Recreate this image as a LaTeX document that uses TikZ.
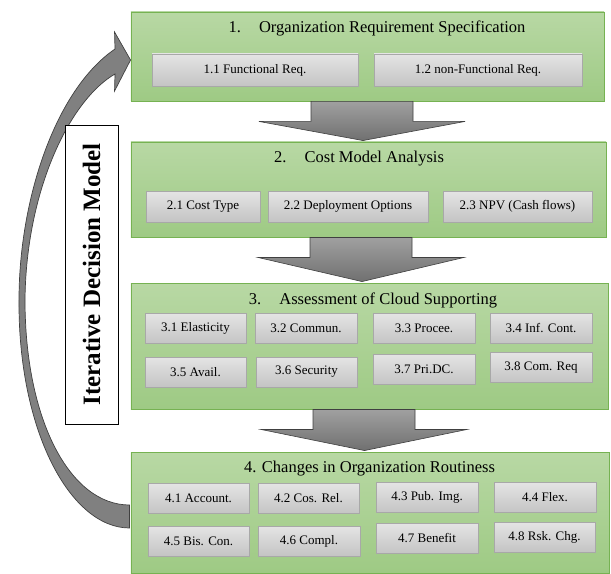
\documentclass[tikz,border=0pt]{standalone}
\usepackage{fontspec}
\setmainfont{Liberation Serif}
\usetikzlibrary{calc}
\definecolor{greenedge}{RGB}{118,178,82}
\definecolor{greentop}{RGB}{184,216,164}
\definecolor{greenbot}{RGB}{158,202,132}
\definecolor{subedge}{RGB}{168,168,168}
\definecolor{subtop}{RGB}{228,228,228}
\definecolor{subbot}{RGB}{196,196,196}
\definecolor{arrowtop}{RGB}{160,160,160}
\definecolor{arrowbot}{RGB}{112,112,112}
\definecolor{arrowedge}{RGB}{64,64,64}

\begin{document}
\begin{tikzpicture}[x=1bp,y=-1bp,
  mainbox/.style={draw=greenedge,line width=0.9bp,top color=greentop,bottom color=greenbot,inner sep=0},
  subbox/.style={draw=subedge,line width=0.9bp,top color=subtop,bottom color=subbot,inner sep=0,
    minimum height=30bp,font=\fontsize{13bp}{15bp}\selectfont},
  titletext/.style={inner sep=0,font=\fontsize{16.5bp}{19bp}\selectfont},
  downarrow/.style={draw=arrowedge,line width=0.6bp,top color=arrowtop,bottom color=arrowbot},
  looparrow/.style={draw=arrowedge,line width=0.7bp,fill=black!50},
  loopbox/.style={draw=black,line width=0.8bp,fill=white,inner sep=0,rotate=90,
    font=\fontsize{25bp}{28bp}\selectfont\bfseries}]
\useasboundingbox (0,0) rectangle (611,574);

\node[mainbox,minimum width=473bp,minimum height=89bp] (b1) at (367.5,56.5) {};
\node[mainbox,minimum width=475bp,minimum height=95bp] (b2) at (368.5,189.5) {};
\node[mainbox,minimum width=477bp,minimum height=126bp] (b3) at (369.5,346) {};
\node[mainbox,minimum width=478bp,minimum height=121bp] (b4) at (370,512.5) {};

\node[titletext] (t1) at (377,28.5) {1.\hspace{1.1em}Organization Requirement Specification};
\node[titletext] (t2) at (359,159) {2.\hspace{1.1em}Cost Model Analysis};
\node[titletext] (t3) at (373,300.5) {3.\hspace{1.1em}Assessment of Cloud Supporting};
\node[titletext] (t4) at (369.5,469) {4. Changes in Organization Routiness};

\node[subbox,minimum width=206bp,minimum height=32bp] (s11) at (255,70) {1.1 Functional Req.};
\node[subbox,minimum width=208bp,minimum height=32bp] (s12) at (478,70) {1.2 non-Functional Req.};

\node[subbox,minimum width=114bp,minimum height=31bp] (s21) at (203,206.5) {2.1 Cost Type};
\node[subbox,minimum width=160bp,minimum height=31bp] (s22) at (348,206.5) {2.2 Deployment Options};
\node[subbox,minimum width=149bp,minimum height=31bp] (s23) at (517.5,206.5) {2.3 NPV (Cash flows)};

\node[subbox,minimum width=101bp] (s31) at (195.5,328.5) {3.1 Elasticity};
\node[subbox,minimum width=102bp] (s32) at (306,328.5) {3.2 Commun.};
\node[subbox,minimum width=102bp] (s33) at (424,328.5) {3.3 Procee.};
\node[subbox,minimum width=102bp] (s34) at (541,328) {3.4 Inf. Cont.};
\node[subbox,minimum width=101bp] (s35) at (195.5,372) {3.5 Avail.};
\node[subbox,minimum width=101bp] (s36) at (306.5,372) {3.6 Security};
\node[subbox,minimum width=102bp] (s37) at (424,369.5) {3.7 Pri.DC.};
\node[subbox,minimum width=102bp] (s38) at (541,367.5) {3.8 Com. Req};

\node[subbox,minimum width=101bp] (s41) at (198.5,498.5) {4.1 Account.};
\node[subbox,minimum width=101bp] (s42) at (308.5,498.5) {4.2 Cos. Rel.};
\node[subbox,minimum width=102bp] (s43) at (427,497.5) {4.3 Pub. Img.};
\node[subbox,minimum width=102bp] (s44) at (545,497.5) {4.4 Flex.};
\node[subbox,minimum width=101bp] (s45) at (198.5,541) {4.5 Bis. Con.};
\node[subbox,minimum width=102bp] (s46) at (309,541) {4.6 Compl.};
\node[subbox,minimum width=102bp] (s47) at (427,538.5) {4.7 Benefit};
\node[subbox,minimum width=101bp] (s48) at (544.5,537) {4.8 Rsk. Chg.};

\foreach \up/\dn/\dx in {b1/b2/-5.5,b2/b3/-7.5,b3/b4/-5.5}
  \draw[downarrow] ($(\up.south)+(\dx-51,0)$) -- ($(\up.south)+(\dx+51,0)$)
    -- ($(\up.south)+(\dx+51,20)$) -- ($(\up.south)+(\dx+103,20)$)
    -- ($(\dn.north)+(\dx,-1)$)
    -- ($(\up.south)+(\dx-103,20)$) -- ($(\up.south)+(\dx-51,20)$) -- cycle;

\draw[looparrow] ($(b4.west)+(-1,15.5)$)
  .. controls (70,528) and (18,430) .. (19,300)
  .. controls (19,200) and (55,90) .. (115,49)
  -- ($(b1.west)+(-16,-24.5)$) -- ($(b1.west)+(0,3.5)$) -- ($(b1.west)+(-16,34.5)$)
  -- (115,74) .. controls (70,100) and (26,190) .. (25,300)
  .. controls (25,420) and (70,505) .. ($(b4.west)+(-1,-7.5)$) -- cycle;

\node[loopbox,minimum width=299bp,minimum height=53bp] (loop) at (91.5,274.5) {Iterative Decision Model};
\end{tikzpicture}
\end{document}
